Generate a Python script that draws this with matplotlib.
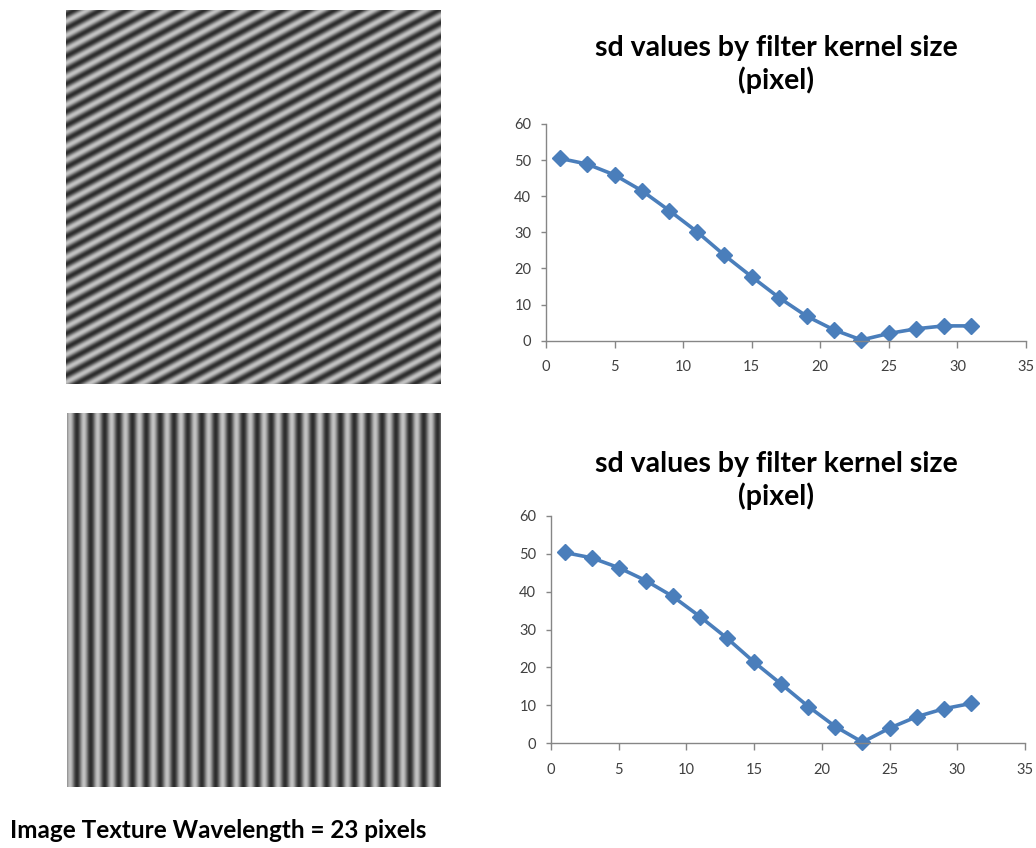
import numpy as np
import matplotlib.pyplot as plt

plt.rcParams['font.family'] = ['Lato', 'DejaVu Sans']

# kernel sizes (pixel) and measured sd values
kernel = [1, 3, 5, 7, 9, 11, 13, 15, 17, 19, 21, 23, 25, 27, 29, 31]
sd_diag = [50.5, 48.9, 45.9, 41.5, 36.0, 30.2, 23.7, 17.7, 11.9, 6.8, 3.0, 0.2, 2.0, 3.3, 4.1, 4.1]
sd_vert = [50.3, 48.9, 46.3, 42.9, 38.7, 33.4, 27.7, 21.4, 15.6, 9.7, 4.4, 0.3, 4.0, 7.0, 9.1, 10.5]

title_lines = ['sd values by filter kernel size', '(pixel)']
caption = 'Image Texture Wavelength = 23 pixels'
img_size = 620

# texture periods along x and y, in image pixels (None = constant)
diag_period = (43, 23)
vert_period = (23, None)


def texture(period, phase=0.0):
    yy, xx = np.mgrid[0:img_size, 0:img_size].astype(float)
    px, py = period
    u = xx / px if px else 0 * xx
    if py:
        u = u + yy / py
    return 120 - 75 * np.cos(2 * np.pi * (u - phase))


def style_chart(ax):
    ax.set_xlim(0, 35)
    ax.set_ylim(0, 60)
    ax.set_xticks(range(0, 36, 5))
    ax.set_yticks(range(0, 61, 10))
    for s in ['top', 'right']:
        ax.spines[s].set_visible(False)
    for s in ['left', 'bottom']:
        ax.spines[s].set_color('#868686')
        ax.spines[s].set_linewidth(1.0)
    ax.tick_params(direction='out', width=1, color='#868686',
                   labelsize=10.5, labelcolor='#404040')
    ax.tick_params(axis='x', length=5, pad=9)
    ax.tick_params(axis='y', length=3.6, pad=7)
    ax.patch.set_alpha(0)


fig = plt.figure(figsize=(10.36, 8.48), dpi=100)

# texture images
im1 = fig.add_axes([66 / 1036, 1 - 384 / 848, 375 / 1036, 374 / 848])
im1.imshow(texture(diag_period, 0.3), cmap='gray', vmin=0, vmax=255,
           interpolation='antialiased', aspect='auto')
im1.axis('off')

im2 = fig.add_axes([67 / 1036, 1 - 787 / 848, 374 / 1036, 374 / 848])
im2.imshow(texture(vert_period, 16 / 23), cmap='gray', vmin=0, vmax=255,
           interpolation='antialiased', aspect='auto')
im2.axis('off')

# sd curves
ax1 = fig.add_axes([546 / 1036, 1 - 340.7 / 848, 480 / 1036, 216.7 / 848])
ax1.plot(kernel, sd_diag, color='#4a7ebb', lw=2.6, marker='D', ms=8, clip_on=False)
style_chart(ax1)

ax2 = fig.add_axes([551 / 1036, 1 - 743.3 / 848, 474 / 1036, 227.6 / 848])
ax2.plot(kernel, sd_vert, color='#4a7ebb', lw=2.6, marker='D', ms=8, clip_on=False)
style_chart(ax2)

for base in [0, 416]:
    for line, y in zip(title_lines, [56, 89]):
        fig.text(776 / 1036, 1 - (y + base) / 848, line, ha='center',
                 va='baseline', fontsize=20.5, fontweight='bold')

fig.text(10 / 1036, 1 - 838 / 848, caption, ha='left', va='baseline',
         fontsize=17.5, fontweight='bold')

fig.savefig('out.png', dpi=100)
